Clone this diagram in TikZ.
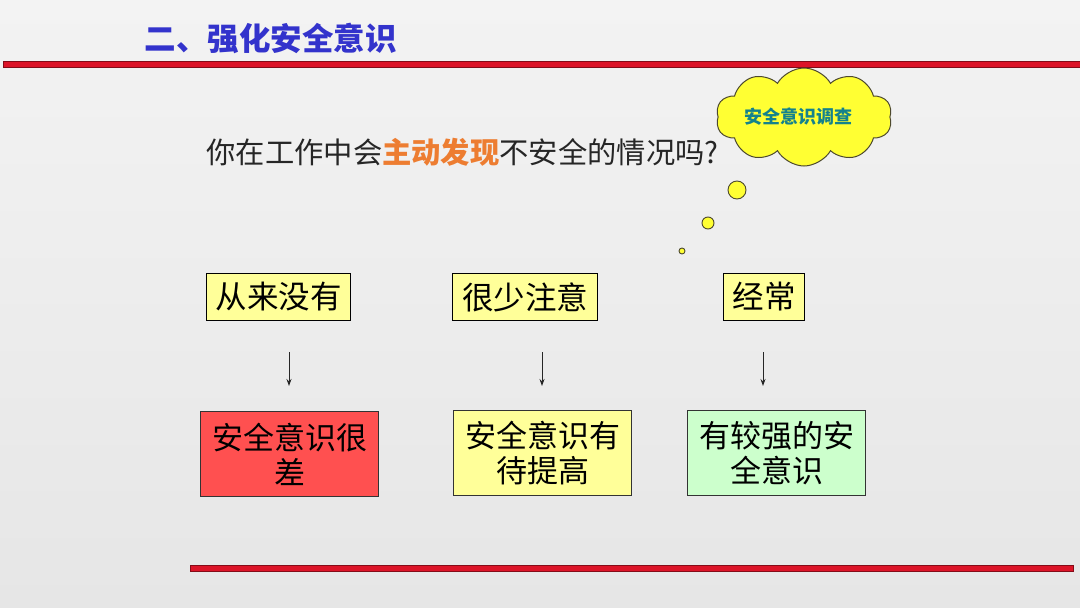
\documentclass[tikz,border=0pt]{standalone}
\usepackage{fontspec}
\setmainfont{Noto Sans CJK SC}
\usetikzlibrary{shapes.symbols,arrows.meta}
\definecolor{titleblue}{RGB}{51,51,204}
\definecolor{barred}{RGB}{220,20,40}
\definecolor{hlorange}{RGB}{237,125,49}
\definecolor{boxyellow}{RGB}{255,255,153}
\definecolor{boxred}{RGB}{255,80,80}
\definecolor{boxgreen}{RGB}{204,255,204}
\definecolor{cloudyellow}{RGB}{255,255,51}
\definecolor{cloudtext}{RGB}{20,130,140}
\definecolor{bgtop}{RGB}{243,243,243}
\definecolor{bgbot}{RGB}{230,230,230}
\tikzset{
  optbox/.style={draw=black, line width=1pt, fill=boxyellow, inner sep=0pt,
    minimum height=47pt, font=\fontsize{31.5}{34}\selectfont, anchor=north west},
  resbox/.style={draw=black!80, line width=1pt, inner sep=0pt,
    minimum height=85pt, minimum width=178pt, align=center,
    font=\fontsize{31}{35}\selectfont, anchor=north west},
  arr/.style={-{Stealth[length=7pt,width=5pt]}, line width=1pt, black!85},
  redbar/.style={fill=barred, draw=black!40!barred, line width=0.4pt},
  bubble/.style={circle, draw=black!60!olive, line width=0.9pt, fill=cloudyellow, inner sep=0pt}
}
\begin{document}
\begin{tikzpicture}[x=1pt,y=-1pt]
\useasboundingbox (0,0) rectangle (1080,608);
\shade[top color=bgtop, bottom color=bgbot] (0,0) rectangle (1080,608);
% bars
\fill[redbar] (3,61.5) rectangle (1080,67.5);
\fill[redbar] (190,565.5) rectangle (1073,571.5);
% title
\node[anchor=west, text=titleblue, font=\fontsize{31.5}{34}\selectfont\bfseries] (title) at (141,38) {二、强化安全意识};
% question
\node[anchor=west, font=\fontsize{29.3}{32}\selectfont, text=black!85] (q) at (203,152)
  {你在工作中会{\bfseries\color{hlorange}主动发现}不安全的情况吗?};
% cloud
\node[cloud, cloud puffs=10, cloud puff arc=120, aspect=1.9, draw=black!60!olive, line width=1pt,
  fill=cloudyellow, minimum width=176pt, minimum height=98pt, inner sep=0pt] (cloud) at (804,117) {};
\node[text=cloudtext, font=\fontsize{18}{20}\selectfont\bfseries] (ctext) at (798,117) {安全意识调查};
\node[bubble, minimum size=18pt] (b1) at (737,190) {};
\node[bubble, minimum size=12pt] (b2) at (708,223) {};
\node[bubble, minimum size=6pt] (b3) at (682,251) {};
% option boxes
\node[optbox, minimum width=144pt] (o1) at (206,273) {从来没有};
\node[optbox, minimum width=145pt] (o2) at (452,273) {很少注意};
\node[optbox, minimum width=81pt] (o3) at (723,273) {经常};
% result boxes
\node[resbox, fill=boxred] (r1) at (200,411) {安全意识很\\差};
\node[resbox, fill=boxyellow] (r2) at (453,410) {安全意识有\\待提高};
\node[resbox, fill=boxgreen] (r3) at (687,410) {有较强的安\\全意识};
% arrows
\coordinate (a1s) at (289,352); \coordinate (a1e) at (289,386);
\coordinate (a2s) at (542,352); \coordinate (a2e) at (542,386);
\coordinate (a3s) at (763,352); \coordinate (a3e) at (763,386);
\draw[arr] (a1s) -- (a1e);
\draw[arr] (a2s) -- (a2e);
\draw[arr] (a3s) -- (a3e);
\end{tikzpicture}
\end{document}
